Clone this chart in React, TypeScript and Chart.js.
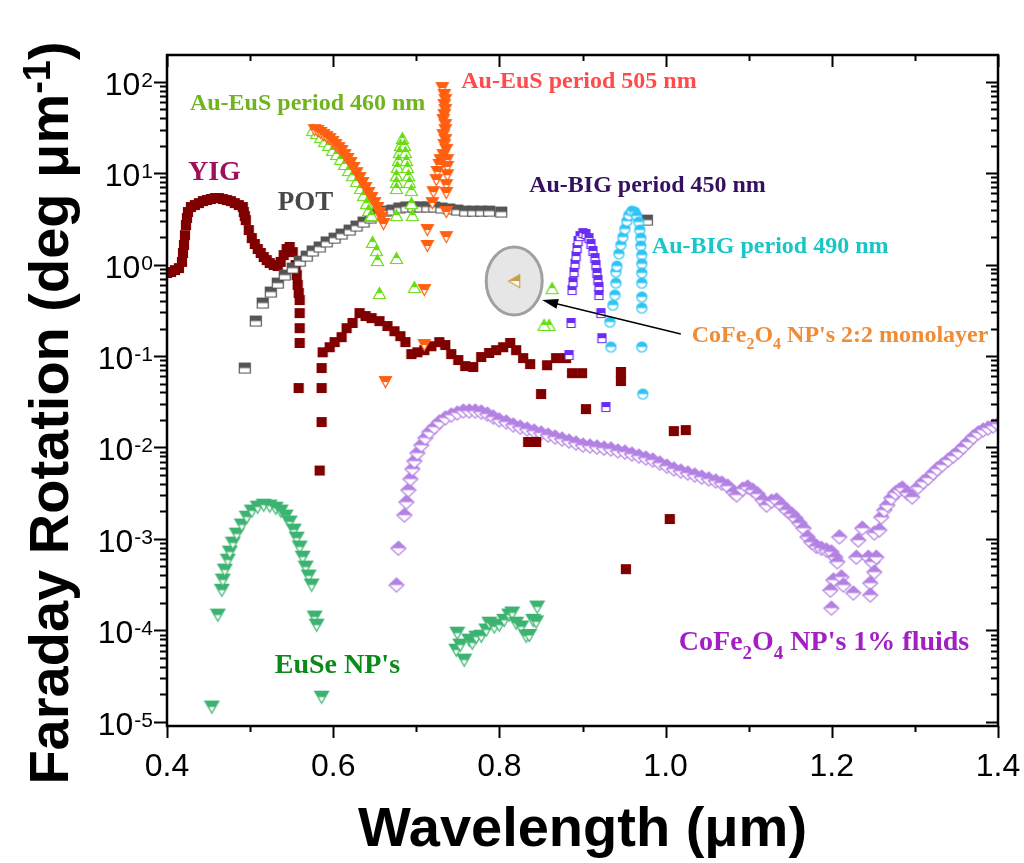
import React, { useEffect, useRef } from "react";
import { Chart, registerables } from "chart.js";

Chart.register(...registerables);

// ---------------- data (wavelength in µm, Faraday rotation in deg/µm) ----------------
const yigWl = [0.400, 0.4048, 0.4096, 0.4144, 0.418, 0.4192, 0.4204, 0.4216, 0.4228, 0.424, 0.4252, 0.4288, 0.4336, 0.4384, 0.4432, 0.448, 0.4528, 0.4576, 0.4624, 0.4672, 0.472, 0.4768, 0.4816, 0.4864, 0.4912, 0.4924, 0.4936, 0.4948, 0.4984, 0.502, 0.5056, 0.5092, 0.5128, 0.5164, 0.52, 0.5236, 0.5284, 0.5332, 0.5368, 0.5404, 0.544, 0.5476, 0.5512, 0.5548, 0.5561, 0.5572, 0.5585, 0.5596, 0.5596, 0.5596, 0.5596, 0.5584,
  0.586, 0.586, 0.586, 0.5837,
  0.5873, 0.5957, 0.6017, 0.6101, 0.6161, 0.6233, 0.6317, 0.6389, 0.6461, 0.6557, 0.6653, 0.6737, 0.6809, 0.6869, 0.6941, 0.7013, 0.7097, 0.7181, 0.7277, 0.7349, 0.7421, 0.7505, 0.7589, 0.7685, 0.7781, 0.7877, 0.7961, 0.8045, 0.813, 0.8202, 0.8286, 0.837, 0.8574, 0.8682, 0.8802, 0.8874, 0.8994, 0.9462, 0.9462, 0.8502, 0.9042, 1.0099, 1.0243, 0.8346, 0.8442, 1.005, 0.9522];
const yigVal = [0.809, 0.83, 0.871, 0.916, 1.07, 1.34, 1.64, 2.1, 2.71, 3.23, 3.76, 4.26, 4.48, 4.71, 4.95, 5.08, 5.21, 5.35, 5.35, 5.21, 5.08, 4.95, 4.71, 4.48, 4.26, 3.76, 3.4, 3.07, 2.39, 1.95, 1.68, 1.48, 1.34, 1.21, 1.12, 1.04, 0.99, 0.965, 1.07, 1.27, 1.48, 1.56, 1.37, 0.99, 0.769, 0.60, 0.489, 0.41, 0.295, 0.202, 0.139, 0.0447,
  0.074, 0.0447, 0.019, 0.0056,
  0.110, 0.125, 0.142, 0.161, 0.202, 0.23, 0.295, 0.274, 0.26, 0.241, 0.213, 0.187, 0.165, 0.142, 0.105, 0.110, 0.116, 0.128, 0.142, 0.132, 0.105, 0.0904, 0.0777, 0.0758, 0.0975, 0.108, 0.116, 0.125, 0.139, 0.116, 0.095, 0.0817, 0.0794, 0.095, 0.095, 0.065, 0.065, 0.067, 0.0533, 0.0384, 0.0263, 0.0151, 0.0155, 0.0115, 0.0115, 0.00165, 0.000467];

const potWl = [0.4936, 0.5068, 0.5152, 0.5249, 0.5333, 0.5417, 0.5513, 0.5597, 0.5681, 0.5753, 0.5837, 0.5921, 0.6017, 0.6101, 0.6197, 0.6281, 0.6365, 0.6449, 0.6533, 0.6629, 0.6713, 0.6797, 0.6881, 0.6965, 0.7049, 0.7133, 0.7217, 0.7301, 0.7397, 0.7493, 0.7589, 0.7685, 0.7781, 0.7877, 0.8022, 0.9774];
const potVal = [0.0739, 0.2415, 0.380, 0.501, 0.628, 0.769, 0.916, 1.09, 1.24, 1.41, 1.56, 1.77, 1.95, 2.16, 2.39, 2.64, 2.92, 3.23, 3.57, 3.85, 3.95, 4.16, 4.27, 4.27, 4.27, 4.27, 4.27, 4.16, 4.06, 3.95, 3.85, 3.85, 3.85, 3.85, 3.76, 3.07];

const eus460Wl = [0.5753, 0.5801, 0.5849, 0.5897, 0.5945, 0.5993, 0.6041, 0.6089, 0.6137, 0.6185, 0.6233, 0.6281, 0.6329, 0.6365, 0.6401, 0.6425, 0.6449,
  0.6833, 0.6809, 0.6857, 0.6797, 0.6869, 0.6785, 0.6881, 0.6773, 0.6893, 0.6761, 0.6905, 0.6761, 0.6917, 0.6761, 0.6941, 0.6941, 0.6761, 0.6953,
  0.6461, 0.6473, 0.6521, 0.6533, 0.6761, 0.6557, 0.6977, 0.8634, 0.8598, 0.8538];
const eus460Val = [29.6, 27.5, 24.8, 22.4, 20.3, 17.9, 16.2, 14.3, 12.6, 10.8, 9.5, 8.2, 6.88, 5.75, 4.71, 3.94, 3.4,
  24.2, 20.3, 20.3, 17.0, 17.0, 13.9, 13.9, 11.7, 11.7, 9.5, 9.5, 8.0, 8.0, 6.88, 6.53, 4.71, 3.48, 3.48,
  3.48, 1.77, 1.44, 1.12, 1.18, 0.489, 0.568, 0.553, 0.219, 0.219];

const eus505Wl = [0.5777, 0.5813, 0.5849, 0.5885, 0.5921, 0.5957, 0.5993, 0.6029, 0.6065, 0.6101, 0.6137, 0.6173, 0.6209, 0.6245, 0.6281, 0.6317, 0.6353, 0.6389, 0.6425, 0.6461, 0.6497, 0.6533, 0.6557, 0.6581, 0.6605,
  0.7313, 0.7337, 0.7349, 0.7337, 0.7349, 0.7337, 0.7325, 0.7349, 0.7349, 0.7325, 0.7349, 0.7337, 0.7361, 0.7325, 0.7289, 0.7373, 0.7277, 0.7373, 0.7253, 0.7373, 0.7241, 0.7361, 0.7205, 0.7361, 0.7193, 0.7361, 0.7133, 0.7361, 0.7133, 0.7097,
  0.6629, 0.7097];
const eus505Val = [29.6, 28.9, 27.5, 26.1, 24.8, 23.6, 21.9, 20.3, 18.8, 17.5, 15.8, 14.3, 12.9, 11.4, 10.0, 8.85, 7.8, 6.88, 6.07, 5.35, 4.71, 4.16, 3.66, 3.23, 2.78,
  85.3, 71.6, 63.1, 55.6, 49.0, 43.2, 38.1, 33.6, 29.6, 26.1, 23.0, 20.3, 17.9, 15.8, 13.9, 13.9, 12.3, 11.7, 10.3, 9.5, 8.4, 7.4, 6.2, 6.07, 4.71, 3.76, 2.39, 2.0, 1.6, 0.527,
  0.052, 0.132];

const big450Wl = [0.8838, 0.8862, 0.8874, 0.8886, 0.8898, 0.891, 0.8922, 0.8934, 0.8946, 0.897, 0.9006, 0.9042, 0.9078, 0.9102, 0.9126, 0.915, 0.9162, 0.9174, 0.9186, 0.9198, 0.9198, 0.9222, 0.9234, 0.9282];
const big450Val = [0.1026, 0.23, 0.527, 0.644, 0.83, 1.02, 1.24, 1.52, 1.81, 2.05, 2.21, 2.16, 1.95, 1.68, 1.41, 1.18, 0.99, 0.81, 0.678, 0.569, 0.465, 0.295, 0.157, 0.0277];

const big490Wl = [0.933, 0.9342, 0.9366, 0.939, 0.9402, 0.9402, 0.9414, 0.9438, 0.9462, 0.9486, 0.951, 0.9534, 0.9558, 0.9594, 0.963, 0.9654, 0.9678, 0.969, 0.9702, 0.9702, 0.9714, 0.9714, 0.9714, 0.9714, 0.9714, 0.9714, 0.9714, 0.9726];
const big490Val = [0.2355, 0.1256, 0.361, 0.465, 0.628, 0.83, 0.964, 1.31, 1.64, 2.0, 2.45, 2.99, 3.48, 3.85, 3.76, 3.4, 2.92, 2.39, 1.95, 1.6, 1.27, 1.02, 0.81, 0.628, 0.442, 0.335, 0.1256, 0.0384];

const fluidWl = [0.6761, 0.6785, 0.6857, 0.6881, 0.6905, 0.6929, 0.6953, 0.6977, 0.7013, 0.7061, 0.7109, 0.7157, 0.7217, 0.7277, 0.7349, 0.7421, 0.7493, 0.7565, 0.7637, 0.7709, 0.7781, 0.7854, 0.7926, 0.7998, 0.8082, 0.8166, 0.825, 0.8334, 0.8418, 0.8502, 0.8586, 0.867, 0.8754, 0.8838, 0.8922, 0.9006, 0.909, 0.9174, 0.9258, 0.9342, 0.9426, 0.951, 0.9594, 0.9678, 0.9762, 0.9846, 0.993, 1.0015, 1.0099, 1.0183, 1.0267, 1.0351, 1.0435, 1.0519, 1.0603, 1.0675, 1.0747, 1.0819, 1.0855, 1.0927, 1.0987, 1.1047, 1.1107, 1.1167, 1.1215, 1.1275, 1.1335, 1.1395, 1.1455, 1.1515, 1.1563, 1.1611, 1.1659, 1.1707, 1.1755, 1.1815, 1.1875, 1.1935, 1.1995, 1.2043, 1.2067, 1.2091, 1.2019, 1.2115, 1.1983, 1.2139, 1.1995, 1.2259, 1.2319, 1.2367, 1.2295, 1.2439, 1.2511, 1.2487, 1.2511, 1.2463, 1.2463, 1.2535, 1.2572, 1.2596, 1.2632, 1.2668, 1.2716, 1.2764, 1.2812, 1.2848, 1.2908, 1.2968, 1.304, 1.31, 1.316, 1.322, 1.3268, 1.3328, 1.34, 1.346, 1.352, 1.358, 1.364, 1.37, 1.376, 1.382, 1.388, 1.394, 1.40];
const fluidVal = [3.13e-4, 7.9e-4, 1.82e-3, 2.53e-3, 3.42e-3, 4.52e-3, 5.81e-3, 7.10e-3, 8.69e-3, 0.0106, 0.0127, 0.01475, 0.0167, 0.019, 0.021, 0.0226, 0.0238, 0.025, 0.025, 0.025, 0.0244, 0.0232, 0.0215, 0.020, 0.019, 0.0176, 0.0167, 0.0159, 0.0151, 0.01436, 0.01365, 0.013, 0.01236, 0.01175, 0.01117, 0.0106, 0.01035, 0.0101, 0.00984, 0.00962, 0.00914, 0.00891, 0.00847, 0.00805, 0.00766, 0.00728, 0.00675, 0.00625, 0.00581, 0.00552, 0.00525, 0.00499, 0.00474, 0.00452, 0.0043, 0.00408, 0.00378, 0.00325, 0.00302, 0.00351, 0.00369, 0.00342, 0.0031, 0.00266, 0.00234, 0.00259, 0.00266, 0.00234, 0.00207, 0.00187, 0.00169, 0.00149, 0.00131, 0.00105, 9.2e-4, 8.3e-4, 7.9e-4, 7.55e-4, 7.2e-4, 6.3e-4, 5.6e-4, 1.05e-3, 3.55e-4, 3.83e-4, 2.75e-4, 3.13e-4, 1.75e-4, 2.56e-4, 9.7e-4, 1.31e-3, 6.3e-4, 6.3e-4, 1.16e-3, 5.6e-4, 4.34e-4, 3.29e-4, 2.43e-4, 6.3e-4, 1.25e-3, 1.73e-3, 2.07e-3, 2.34e-3, 2.8e-3, 3.18e-3, 3.42e-3, 3.6e-3, 3.18e-3, 2.87e-3, 3.69e-3, 4.19e-3, 4.63e-3, 5.25e-3, 5.81e-3, 6.43e-3, 7.28e-3, 8.05e-3, 8.91e-3, 0.0101, 0.01146, 0.013, 0.01436, 0.0155, 0.0163, 0.01714, 0.018];

const euseWl = [0.454, 0.4612, 0.466, 0.4672, 0.4696, 0.4732, 0.4756, 0.4792, 0.484, 0.49, 0.496, 0.502, 0.5092, 0.5164, 0.5236, 0.5309, 0.5369, 0.5429, 0.5477, 0.5525, 0.5561, 0.5597, 0.5633, 0.5669, 0.5705, 0.5741, 0.5777, 0.5801, 0.5861,
  0.7481, 0.7493, 0.7529, 0.7577, 0.7637, 0.7673, 0.7722, 0.7782, 0.7842, 0.7878, 0.7938, 0.7998, 0.8058, 0.8118, 0.8154, 0.8202, 0.8262, 0.8322, 0.8358, 0.8406, 0.8442, 0.8454];
const euseVal = [1.45e-5, 1.47e-4, 2.75e-4, 3.55e-4, 4.56e-4, 5.86e-4, 7.18e-4, 9.0e-4, 1.13e-3, 1.42e-3, 1.73e-3, 2.02e-3, 2.23e-3, 2.34e-3, 2.29e-3, 2.17e-3, 2.02e-3, 1.78e-3, 1.53e-3, 1.25e-3, 1.02e-3, 8.15e-4, 6.32e-4, 4.92e-4, 3.93e-4, 3.13e-4, 1.40e-4, 1.14e-4, 1.86e-5,
  6.08e-5, 9.33e-5, 6.9e-5, 4.73e-5, 7.83e-5, 7.26e-5, 8.43e-5, 8.65e-5, 1.01e-4, 1.2e-4, 1.09e-4, 1.14e-4, 1.29e-4, 1.47e-4, 1.55e-4, 1.2e-4, 1.09e-4, 8.65e-5, 8.8e-5, 1.29e-4, 1.24e-4, 1.8e-4];

const mono22Wl = [0.8178];
const mono22Val = [0.66];

const xMajorTicks = [0.4, 0.6, 0.8, 1.0, 1.2, 1.4];
const xMinorTicks = [0.5, 0.7, 0.9, 1.1, 1.3];
const yDecadeExps = [-5, -4, -3, -2, -1, 0, 1, 2];

// --------------- markers ---------------
type Shape = "square" | "circle" | "triUp" | "triDown" | "diamond" | "triLeft";

function makeMarker(shape: Shape, color: string, w: number, h: number, half: boolean): HTMLCanvasElement {
  const pad = 1;
  const c = document.createElement("canvas");
  c.width = w + pad * 2;
  c.height = h + pad * 2;
  const ctx = c.getContext("2d") as CanvasRenderingContext2D;
  const x0 = pad + 0.5, y0 = pad + 0.5, x1 = pad + w - 0.5, y1 = pad + h - 0.5;
  const xm = (x0 + x1) / 2, ym = (y0 + y1) / 2;
  const path = () => {
    ctx.beginPath();
    if (shape === "square") ctx.rect(x0, y0, x1 - x0, y1 - y0);
    else if (shape === "circle") ctx.ellipse(xm, ym, (x1 - x0) / 2, (y1 - y0) / 2, 0, 0, Math.PI * 2);
    else if (shape === "triUp") { ctx.moveTo(xm, y0); ctx.lineTo(x1, y1); ctx.lineTo(x0, y1); ctx.closePath(); }
    else if (shape === "triDown") { ctx.moveTo(x0, y0); ctx.lineTo(x1, y0); ctx.lineTo(xm, y1); ctx.closePath(); }
    else if (shape === "diamond") { ctx.moveTo(xm, y0); ctx.lineTo(x1, ym); ctx.lineTo(xm, y1); ctx.lineTo(x0, ym); ctx.closePath(); }
    else { ctx.moveTo(x0, ym); ctx.lineTo(x1, y0); ctx.lineTo(x1, y1); ctx.closePath(); }
  };
  if (half) {
    path();
    ctx.fillStyle = "#ffffff";
    ctx.fill();
    ctx.save();
    path();
    ctx.clip();
    ctx.fillStyle = color;
    ctx.fillRect(0, 0, c.width, pad + h / 2);
    ctx.restore();
  } else {
    path();
    ctx.fillStyle = color;
    ctx.fill();
  }
  path();
  ctx.strokeStyle = color;
  ctx.lineWidth = 1.2;
  ctx.stroke();
  return c;
}

function pts(xs: number[], ys: number[]) {
  return xs.map((x, i) => ({ x, y: ys[i] }));
}

// --------------- annotations (data coordinates) ---------------
type Part = { t: string; sub?: boolean };
const seriesLabels: { parts: Part[]; x: number; y: number; color: string; size: number }[] = [
  { parts: [{ t: "Au-EuS period 460 nm" }], x: 0.4276, y: 49.0, color: "#70B41E", size: 24 },
  { parts: [{ t: "Au-EuS period 505 nm" }], x: 0.7541, y: 85.3, color: "#FF4B4B", size: 24 },
  { parts: [{ t: "YIG" }], x: 0.4252, y: 8.41, color: "#A0105A", size: 28 },
  { parts: [{ t: "POT" }], x: 0.5333, y: 3.95, color: "#484848", size: 27 },
  { parts: [{ t: "Au-BIG period 450 nm" }], x: 0.8358, y: 6.22, color: "#35105F", size: 24 },
  { parts: [{ t: "Au-BIG period 490 nm" }], x: 0.9834, y: 1.34, color: "#18C6C8", size: 24 },
  { parts: [{ t: "CoFe" }, { t: "2", sub: true }, { t: "O" }, { t: "4", sub: true }, { t: " NP's 2:2 monolayer" }], x: 1.0315, y: 0.142, color: "#F08C35", size: 24 },
  { parts: [{ t: "CoFe" }, { t: "2", sub: true }, { t: "O" }, { t: "4", sub: true }, { t: " NP's 1% fluids" }], x: 1.0159, y: 6.08e-5, color: "#A31FC4", size: 28 },
  { parts: [{ t: "EuSe NP's" }], x: 0.5297, y: 3.41e-5, color: "#0A8A1A", size: 28 },
];
const arrowFrom = { x: 1.0183, y: 0.174 };
const arrowTo = { x: 0.8514, y: 0.409 };

const SERIF = "'Liberation Serif', 'Times New Roman', serif";
const SANS = "'Liberation Sans', Arial, sans-serif";

function drawParts(ctx: CanvasRenderingContext2D, parts: Part[], x: number, y: number, size: number, color: string) {
  let cx = x;
  ctx.fillStyle = color;
  ctx.textAlign = "left";
  ctx.textBaseline = "alphabetic";
  for (const p of parts) {
    const s = p.sub ? Math.round(size * 0.68) : size;
    ctx.font = `bold ${s}px ${SERIF}`;
    ctx.fillText(p.t, cx, p.sub ? y + size * 0.3 : y);
    cx += ctx.measureText(p.t).width;
  }
}

const decorPlugin = {
  id: "decor",
  beforeDatasetsDraw(chart: any) {
    const { ctx, scales } = chart;
    const cx = scales.x.getPixelForValue(mono22Wl[0]);
    const cy = scales.y.getPixelForValue(mono22Val[0]);
    ctx.save();
    ctx.beginPath();
    ctx.ellipse(cx, cy, 28, 34, 0, 0, Math.PI * 2);
    ctx.fillStyle = "#E6E6E6";
    ctx.fill();
    ctx.lineWidth = 3;
    ctx.strokeStyle = "#A0A0A0";
    ctx.stroke();
    ctx.restore();
  },
  afterDatasetsDraw(chart: any) {
    const { ctx, chartArea: a, scales } = chart;
    const xs = scales.x, ys = scales.y;
    ctx.save();
    // frame
    ctx.strokeStyle = "#000";
    ctx.lineWidth = 2.5;
    ctx.strokeRect(a.left, a.top, a.right - a.left, a.bottom - a.top);
    // x ticks
    ctx.lineWidth = 2;
    ctx.beginPath();
    for (const v of xMajorTicks) {
      const px = Math.round(xs.getPixelForValue(v)) + 0.5;
      ctx.moveTo(px, a.bottom); ctx.lineTo(px, a.bottom + 12);
      ctx.moveTo(px, a.top); ctx.lineTo(px, a.top + 12);
    }
    for (const v of xMinorTicks) {
      const px = Math.round(xs.getPixelForValue(v)) + 0.5;
      ctx.moveTo(px, a.bottom); ctx.lineTo(px, a.bottom + 6);
      ctx.moveTo(px, a.top); ctx.lineTo(px, a.top + 6);
    }
    // y ticks
    for (const e of yDecadeExps) {
      const py = Math.round(ys.getPixelForValue(Math.pow(10, e))) + 0.5;
      ctx.moveTo(a.left - 13, py); ctx.lineTo(a.left, py);
      ctx.moveTo(a.right, py); ctx.lineTo(a.right - 12, py);
      for (let m = 2; m <= 9; m++) {
        const v = m * Math.pow(10, e);
        if (v > ys.max || v < ys.min) continue;
        const pm = Math.round(ys.getPixelForValue(v)) + 0.5;
        ctx.moveTo(a.left - 7, pm); ctx.lineTo(a.left, pm);
        ctx.moveTo(a.right, pm); ctx.lineTo(a.right - 7, pm);
      }
    }
    ctx.stroke();

    // x tick labels
    ctx.fillStyle = "#000";
    ctx.font = `32px ${SANS}`;
    ctx.textAlign = "center";
    ctx.textBaseline = "alphabetic";
    for (const v of xMajorTicks) {
      ctx.fillText(v.toFixed(1), xs.getPixelForValue(v), a.bottom + 50);
    }
    // y tick labels
    for (const e of yDecadeExps) {
      const py = ys.getPixelForValue(Math.pow(10, e));
      const expStr = e < 0 ? "-" + Math.abs(e) : String(e);
      ctx.font = `21px ${SANS}`;
      const we = ctx.measureText(expStr).width;
      const right = a.left - 14;
      ctx.textAlign = "left";
      ctx.fillText(expStr, right - we, py + 5);
      ctx.font = `32px ${SANS}`;
      ctx.textAlign = "right";
      ctx.fillText("10", right - we - 1, py + 13);
    }

    // axis titles
    ctx.textAlign = "center";
    ctx.font = `bold 56px ${SANS}`;
    ctx.fillText("Wavelength (μm)", (a.left + a.right) / 2, 846);

    ctx.save();
    ctx.translate(68, 413);
    ctx.rotate(-Math.PI / 2);
    const main = "Faraday Rotation (deg μm";
    const sup = "-1";
    const close = ")";
    ctx.font = `bold 56px ${SANS}`;
    const wMain = ctx.measureText(main).width;
    const wClose = ctx.measureText(close).width;
    ctx.font = `bold 38px ${SANS}`;
    const wSup = ctx.measureText(sup).width;
    const total = wMain + wSup + wClose;
    let tx = -total / 2;
    ctx.textAlign = "left";
    ctx.font = `bold 56px ${SANS}`;
    ctx.fillText(main, tx, 0);
    tx += wMain;
    ctx.font = `bold 38px ${SANS}`;
    ctx.fillText(sup, tx, -18);
    tx += wSup;
    ctx.font = `bold 56px ${SANS}`;
    ctx.fillText(close, tx, 0);
    ctx.restore();

    // series labels
    for (const l of seriesLabels) {
      drawParts(ctx, l.parts, xs.getPixelForValue(l.x), ys.getPixelForValue(l.y), l.size, l.color);
    }

    // arrow
    const ax0 = xs.getPixelForValue(arrowFrom.x), ay0 = ys.getPixelForValue(arrowFrom.y);
    const ax1 = xs.getPixelForValue(arrowTo.x), ay1 = ys.getPixelForValue(arrowTo.y);
    const ang = Math.atan2(ay1 - ay0, ax1 - ax0);
    const hl = 16, hw = 5;
    ctx.strokeStyle = "#000";
    ctx.lineWidth = 1.5;
    ctx.beginPath();
    ctx.moveTo(ax0, ay0);
    ctx.lineTo(ax1 - Math.cos(ang) * hl * 0.8, ay1 - Math.sin(ang) * hl * 0.8);
    ctx.stroke();
    ctx.beginPath();
    ctx.moveTo(ax1, ay1);
    ctx.lineTo(ax1 - Math.cos(ang) * hl - Math.sin(ang) * hw, ay1 - Math.sin(ang) * hl + Math.cos(ang) * hw);
    ctx.lineTo(ax1 - Math.cos(ang) * hl + Math.sin(ang) * hw, ay1 - Math.sin(ang) * hl - Math.cos(ang) * hw);
    ctx.closePath();
    ctx.fillStyle = "#000";
    ctx.fill();
    ctx.restore();
  },
};

export default function App() {
  const ref = useRef<HTMLCanvasElement | null>(null);
  useEffect(() => {
    if (!ref.current) return;
    const mk = {
      yig: makeMarker("square", "#800000", 10, 10, false),
      pot: makeMarker("square", "#555555", 12, 11, true),
      eus460: makeMarker("triUp", "#66DD11", 13, 12, true),
      eus505: makeMarker("triDown", "#FF5F0F", 13, 12, true),
      big450: makeMarker("square", "#6A2CF5", 9, 10, true),
      big490: makeMarker("circle", "#2EC4F5", 11, 11, true),
      fluid: makeMarker("diamond", "#B380E3", 16, 15, true),
      euse: makeMarker("triDown", "#3CB371", 15, 13, true),
      mono: makeMarker("triLeft", "#C9A044", 12, 14, true),
    };
    const ds = (data: any, style: HTMLCanvasElement, order: number) => ({
      data,
      pointStyle: style,
      pointRadius: 5,
      showLine: false,
      order,
    });
    const chart = new Chart(ref.current, {
      type: "scatter",
      data: {
        datasets: [
          ds(pts(mono22Wl, mono22Val), mk.mono, 1),
          ds(pts(big490Wl, big490Val), mk.big490, 2),
          ds(pts(big450Wl, big450Val), mk.big450, 3),
          ds(pts(eus505Wl, eus505Val), mk.eus505, 4),
          ds(pts(eus460Wl, eus460Val), mk.eus460, 5),
          ds(pts(potWl, potVal), mk.pot, 6),
          ds(pts(yigWl, yigVal), mk.yig, 7),
          ds(pts(euseWl, euseVal), mk.euse, 8),
          ds(pts(fluidWl, fluidVal), mk.fluid, 9),
        ] as any,
      },
      options: {
        responsive: false,
        animation: false,
        events: [],
        layout: { padding: { top: 55, right: 26, left: 0, bottom: 0 } },
        plugins: { legend: { display: false }, tooltip: { enabled: false } },
        scales: {
          x: {
            type: "linear", min: 0.4, max: 1.4,
            grid: { display: false }, border: { display: false }, ticks: { display: false },
            afterFit: (s: any) => { s.height = 137; },
          },
          y: {
            type: "logarithmic", min: 9e-6, max: 196,
            grid: { display: false }, border: { display: false }, ticks: { display: false },
            afterFit: (s: any) => { s.width = 167; },
          },
        },
      } as any,
      plugins: [decorPlugin as any],
    });
    return () => chart.destroy();
  }, []);
  return (
    <div style={{ position: "fixed", left: 0, top: 0, width: 1024, height: 863, background: "#fff" }}>
      <canvas ref={ref} width={1024} height={863} style={{ width: 1024, height: 863, display: "block" }} />
    </div>
  );
}
